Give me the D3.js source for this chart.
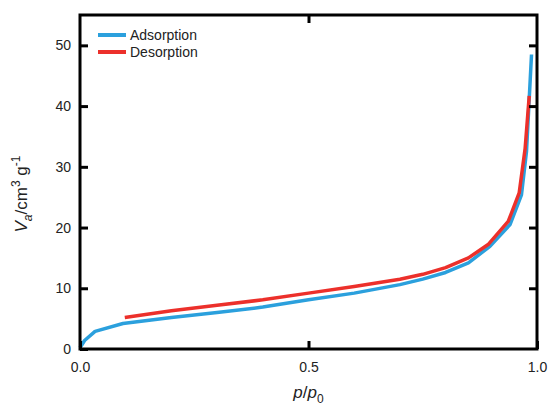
<!DOCTYPE html>
<html>
<head>
<meta charset="utf-8">
<script src="https://cdn.jsdelivr.net/npm/d3@7"></script>
<style>
  body { margin: 0; background: #fff; }
  text { font-family: "Liberation Sans", Arial, sans-serif; fill: #222; }
</style>
</head>
<body>
<div id="chart"></div>
<script>
var svgWidth = 549;
var svgHeight = 411;

var margin = { top: 15, right: 12, bottom: 62, left: 80 };
var chartWidth = 537 - margin.left;
var chartHeight = 349 - margin.top;

// adsorption branch
var adsP = [0.0, 0.01, 0.033, 0.094, 0.2, 0.3, 0.4, 0.5, 0.6, 0.7, 0.75, 0.8, 0.85, 0.897, 0.941, 0.966, 0.977, 0.988];
var adsV = [0.2, 1.4, 2.9, 4.2, 5.2, 6.0, 6.9, 8.1, 9.2, 10.6, 11.5, 12.6, 14.2, 16.9, 20.5, 25.4, 32.5, 48.5];

// desorption branch
var desP = [0.098, 0.2, 0.3, 0.4, 0.5, 0.6, 0.7, 0.75, 0.8, 0.85, 0.893, 0.937, 0.961, 0.974, 0.983];
var desV = [5.2, 6.3, 7.2, 8.1, 9.2, 10.3, 11.5, 12.3, 13.4, 15.0, 17.2, 21.0, 25.7, 33.0, 41.7];

var xTicks = [0, 0.5, 1.0];
var yTicks = [0, 10, 20, 30, 40, 50];

var seriesNames = ["Adsorption", "Desorption"];
var seriesColors = ["#2ba0dd", "#ec302b"];

var svg = d3.select("#chart")
  .append("svg")
  .attr("width", svgWidth)
  .attr("height", svgHeight);

var chartGroup = svg.append("g")
  .attr("transform", `translate(${margin.left}, ${margin.top})`);

var xLinearScale = d3.scaleLinear().domain([0, 1]).range([0, chartWidth]);
var yLinearScale = d3.scaleLinear().domain([0, 55]).range([chartHeight, 0]);

var line = d3.line()
  .x(d => xLinearScale(d[0]))
  .y(d => yLinearScale(d[1]));

var adsData = adsP.map((p, i) => [p, adsV[i]]);
var desData = desP.map((p, i) => [p, desV[i]]);

chartGroup.append("path")
  .datum(adsData)
  .attr("fill", "none")
  .attr("stroke", seriesColors[0])
  .attr("stroke-width", 3.5)
  .attr("stroke-linejoin", "round")
  .attr("d", line);

chartGroup.append("path")
  .datum(desData)
  .attr("fill", "none")
  .attr("stroke", seriesColors[1])
  .attr("stroke-width", 3.5)
  .attr("stroke-linejoin", "round")
  .attr("d", line);

// axes with inward ticks
var bottomAxis = d3.axisBottom(xLinearScale).tickValues(xTicks).tickSize(-8).tickPadding(13).tickFormat(d3.format(".1f"));
var leftAxis = d3.axisLeft(yLinearScale).tickValues(yTicks).tickSize(-8).tickPadding(9).tickFormat(d3.format("d"));
var topAxis = d3.axisTop(xLinearScale).tickValues([0.5]).tickSize(-8).tickFormat("");
var rightAxis = d3.axisRight(yLinearScale).tickValues(yTicks.slice(1)).tickSize(-8).tickFormat("");

function styleAxis(g) {
  g.select(".domain").remove();
  g.selectAll(".tick line").attr("stroke", "#000").attr("stroke-width", 3);
  g.selectAll(".tick text").style("font-size", "14px").attr("fill", "#222");
}

chartGroup.append("g")
  .attr("transform", `translate(0, ${chartHeight})`)
  .call(bottomAxis)
  .call(styleAxis);

chartGroup.append("g")
  .call(leftAxis)
  .call(styleAxis);

chartGroup.append("g")
  .call(topAxis)
  .call(styleAxis);

chartGroup.append("g")
  .attr("transform", `translate(${chartWidth}, 0)`)
  .call(rightAxis)
  .call(styleAxis);

// frame
chartGroup.append("rect")
  .attr("x", 0)
  .attr("y", 0)
  .attr("width", chartWidth)
  .attr("height", chartHeight)
  .attr("fill", "none")
  .attr("stroke", "#000")
  .attr("stroke-width", 3);

// legend
var legend = chartGroup.append("g");
seriesNames.forEach(function(name, i) {
  legend.append("line")
    .attr("x1", 18).attr("x2", 46)
    .attr("y1", 20 + i * 17).attr("y2", 20 + i * 17)
    .attr("stroke", seriesColors[i])
    .attr("stroke-width", 4);
  legend.append("text")
    .attr("x", 50)
    .attr("y", 25 + i * 17)
    .style("font-size", "14px")
    .text(name);
});

// x label
var xLabel = svg.append("text")
  .attr("x", margin.left + chartWidth / 2)
  .attr("y", 398)
  .attr("text-anchor", "middle")
  .style("font-size", "17px");
xLabel.append("tspan").style("font-style", "italic").text("p");
xLabel.append("tspan").text("/");
xLabel.append("tspan").style("font-style", "italic").text("p");
xLabel.append("tspan").attr("dy", 5).style("font-size", "12px").text("0");

// y label
var yLabel = svg.append("text")
  .attr("transform", "translate(27, 194) rotate(-90)")
  .attr("text-anchor", "middle")
  .style("font-size", "17px");
yLabel.append("tspan").style("font-style", "italic").text("V");
yLabel.append("tspan").attr("dy", 5).style("font-size", "12px").style("font-style", "italic").text("a");
yLabel.append("tspan").attr("dy", -5).text("/cm");
yLabel.append("tspan").attr("dy", -7).style("font-size", "12px").text("3");
yLabel.append("tspan").attr("dy", 7).text(" g");
yLabel.append("tspan").attr("dy", -7).style("font-size", "12px").text("-1");
</script>
</body>
</html>
